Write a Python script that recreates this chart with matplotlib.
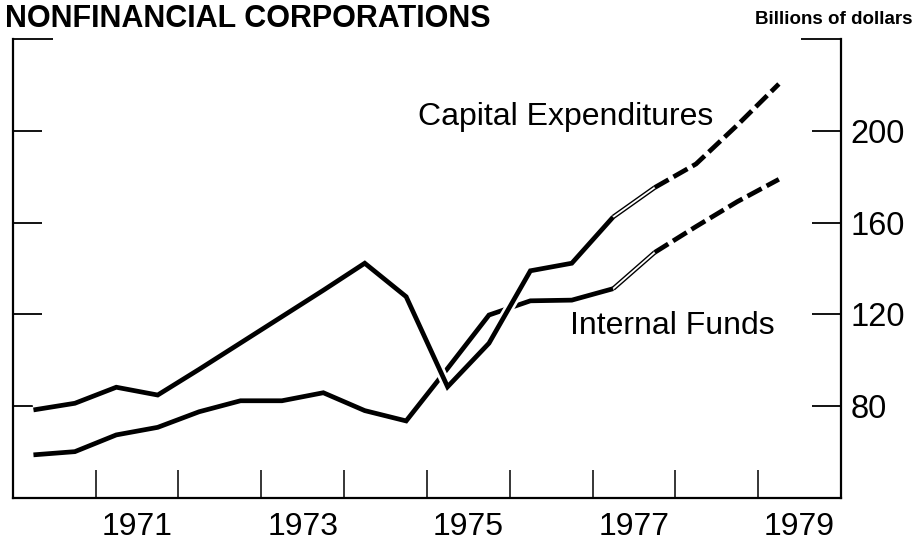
import matplotlib
matplotlib.use("Agg")
import matplotlib.pyplot as plt
import matplotlib.patheffects as pe
from matplotlib.ticker import FixedLocator, NullFormatter

plt.rcParams['font.family'] = ['Liberation Sans', 'DejaVu Sans']

# half-year observations, plotted at the middle of each half
periods = [1970.25, 1970.75, 1971.25, 1971.75, 1972.25, 1972.75, 1973.25,
           1973.75, 1974.25, 1974.75, 1975.25, 1975.75, 1976.25, 1976.75,
           1977.25, 1977.75, 1978.25, 1978.75, 1979.25]
capital_exp = [78.3, 81.2, 88.2, 84.8, 96.0, 107.5, 119.0, 130.5, 142.3, 127.7,
               88.4, 107.4, 139.0, 142.3, 162.5, 175.3, 185.6, 202.6, 220.5]
internal_funds = [58.7, 60.1, 67.4, 70.7, 77.5, 82.3, 82.3, 85.8, 78.0, 73.5,
                  96.4, 119.7, 125.9, 126.2, 131.2, 147.0, 158.3, 169.2, 178.9]

year_ticks = [1971, 1972, 1973, 1974, 1975, 1976, 1977, 1978, 1979]
year_labels = ['1971', '1973', '1975', '1977', '1979']
year_label_pos = [1971.5, 1973.5, 1975.5, 1977.5, 1979.5]
value_ticks = [80, 120, 160, 200]

# split points: actual data, estimate (double line), projection (dashed)
i_est = 14
i_proj = 15

LW = 3.4


def draw_series(ax, y, halo=False):
    effects = None
    if halo:
        effects = [pe.Stroke(linewidth=LW + 3.8, foreground='white'), pe.Normal()]
    ax.plot(periods[:i_est + 1], y[:i_est + 1], color='black', lw=LW,
            solid_joinstyle='miter', solid_capstyle='butt', path_effects=effects, zorder=3)
    # hollow double line for the estimated half
    ax.plot(periods[i_est:i_proj + 1], y[i_est:i_proj + 1], color='black', lw=3.3,
            solid_capstyle='butt', zorder=3)
    ax.plot(periods[i_est:i_proj + 1], y[i_est:i_proj + 1], color='white', lw=1.3,
            solid_capstyle='butt', zorder=4)
    ax.plot(periods[i_proj:], y[i_proj:], color='black', lw=LW, dashes=(3.4, 1.2),
            dash_capstyle='butt', zorder=3)


fig = plt.figure(figsize=(9.17, 5.41), dpi=100)
ax = fig.add_axes([0.0139, 0.080, 0.9032, 0.8474])

draw_series(ax, internal_funds)
draw_series(ax, capital_exp, halo=True)

ax.set_xlim(1970, 1980)
ax.set_ylim(40, 240)

for s in ['left', 'right', 'bottom']:
    ax.spines[s].set_linewidth(1.6)
ax.spines['top'].set_visible(False)

ax.xaxis.set_major_locator(FixedLocator(year_ticks))
ax.xaxis.set_major_formatter(NullFormatter())
ax.xaxis.set_minor_locator(FixedLocator(year_label_pos))
ax.set_xticklabels(year_labels, minor=True)
ax.tick_params(axis='x', which='major', direction='in', length=20, width=1.1)
ax.tick_params(axis='x', which='minor', length=0, pad=10, labelsize=23)

ax.yaxis.set_major_locator(FixedLocator(value_ticks))
ax.yaxis.set_minor_locator(FixedLocator([240]))
ax.yaxis.set_minor_formatter(NullFormatter())
ax.tick_params(axis='y', which='both', direction='in', left=True, right=True,
               labelleft=False, labelright=True, width=1.3)
ax.tick_params(axis='y', which='major', length=21, pad=7, labelsize=23.5)
ax.tick_params(axis='y', which='minor', length=29)

ax.text(1974.89, 206, 'Capital Expenditures', fontsize=23, va='center', ha='left')
ax.text(1976.73, 115, 'Internal Funds', fontsize=23, va='center', ha='left')

fig.text(0.005, 1 - 27 / 541, 'NONFINANCIAL CORPORATIONS', fontsize=22,
         fontweight='bold', ha='left', va='baseline')
fig.text(0.995, 1 - 24 / 541, 'Billions of dollars', fontsize=13.5,
         fontweight='bold', ha='right', va='baseline')

fig.savefig('out.png', dpi=100)
